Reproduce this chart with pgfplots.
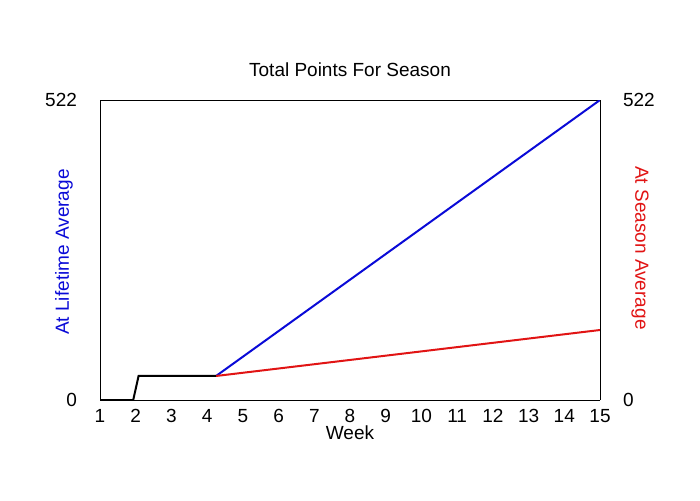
\documentclass[border=0pt]{standalone}
\usepackage{fontspec}
\setmainfont{Liberation Sans}
\usepackage{pgfplots}
\pgfplotsset{compat=1.18}

\definecolor{lifeblue}{RGB}{10,10,215}
\definecolor{seasonred}{RGB}{225,20,20}

% 1 px of the reference = 0.5pt
\begin{document}
\begin{tikzpicture}[x=0.5pt,y=0.5pt]
\path[use as bounding box] (0,0) rectangle (700,500);

\pgfplotsset{
  base/.style={
    at={(50pt,50pt)}, anchor=south west,
    scale only axis, width=250pt, height=150pt,
    xmin=1, xmax=15, ymin=0, ymax=522,
    ytick={0,522}, major tick length=0pt,
    font=\fontsize{9.5}{11}\selectfont,
    /pgf/number format/assume math mode=true,
  }
}

\begin{axis}[base,
  axis y line*=left, axis x line*=box,
  xtick={1,...,15},
  xticklabel shift=1pt,
  yticklabel shift=8pt,
  title={Total Points For Season},
  title style={yshift=2pt},
  xlabel={Week},
  xlabel style={yshift=5.5pt},
  ylabel={At Lifetime Average},
  ylabel style={at={(axis description cs:-0.072,0.493)}, anchor=center, text=lifeblue},
]
\addplot[lifeblue, line width=1pt] coordinates {(4.25,41.8) (15,522)};
\addplot[seasonred, line width=1pt] coordinates {(4.25,41.8) (15,121.8)};
\addplot[black, line width=1pt] coordinates {(1,0) (1.93,0) (2.08,41.8) (4.25,41.8)};
\end{axis}

\begin{axis}[base,
  axis y line*=right, axis x line=none,
  yticklabel shift=8pt,
  ylabel={At Season Average},
  ylabel style={at={(axis description cs:1.08,0.507)}, rotate=180, anchor=center, text=seasonred},
]
\end{axis}
\end{tikzpicture}
\end{document}
